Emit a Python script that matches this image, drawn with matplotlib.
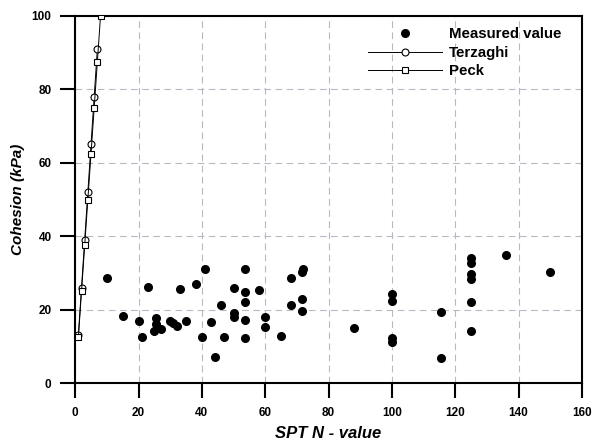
import numpy as np
import matplotlib.pyplot as plt

plt.rcParams['font.family'] = ['Liberation Sans', 'DejaVu Sans']

# measured SPT N-value vs cohesion (kPa)
meas_n = [10, 15, 20, 21, 23, 25.5, 25.5, 25, 27, 30, 31, 32, 33, 35, 38,
          40, 41, 43, 44, 46, 47, 50, 50, 50, 53.5, 53.5, 53.5, 53.5, 53.5,
          58, 60, 60, 65, 68, 68, 71.5, 72, 71.5, 71.5,
          88, 100, 100, 100, 100, 115.5, 115.5,
          125, 125, 125, 125, 125, 125, 136, 150]
meas_c = [28.7, 18.2, 16.9, 12.7, 26.2, 17.7, 16.0, 14.2, 14.7, 16.9, 16.3, 15.7, 25.6, 16.9, 26.9,
          12.5, 31.2, 16.6, 7.1, 21.3, 12.7, 25.8, 19.0, 18.0, 31.2, 24.7, 22.1, 17.1, 12.3,
          25.3, 18.0, 15.3, 12.9, 28.7, 21.3, 30.3, 31.2, 23.0, 19.7,
          15.1, 24.4, 22.3, 12.3, 11.3, 19.5, 6.8,
          34.0, 32.8, 29.7, 28.5, 22.1, 14.3, 34.8, 30.2]

# empirical correlations
terz_n = [1, 2, 3, 4, 5, 6, 7]
terz_c = [13, 26, 39, 52, 65, 78, 91]
peck_n = [1, 2, 3, 4, 5, 6, 7, 8]
peck_c = [12.5, 25, 37.5, 50, 62.5, 75, 87.5, 100]

fig = plt.figure(figsize=(5.92, 4.43), dpi=100)
ax = fig.add_axes([0.127, 0.135, 0.856, 0.829])

ax.plot(meas_n, meas_c, 'o', color='black', markersize=5.5, label='Measured value', zorder=3)
ax.plot(terz_n, terz_c, '-o', color='black', lw=0.7, markersize=5, mfc='white', mew=0.8,
        label='Terzaghi', zorder=4)
ax.plot(peck_n, peck_c, '-s', color='black', lw=0.7, markersize=5, mfc='white', mew=0.8,
        label='Peck', zorder=4)

ax.set_xlim(0, 160)
ax.set_ylim(0, 100)
ax.set_xticks(np.arange(0, 161, 20))
ax.set_yticks(np.arange(0, 101, 20))
ax.grid(True, color='#b8b8c4', linestyle=(0, (6, 4)), linewidth=0.8)
ax.set_axisbelow(True)

for s in ax.spines.values():
    s.set_linewidth(1.5)
ax.tick_params(direction='out', length=11, width=1.5, labelsize=8.5, pad=6)
for lab in ax.get_xticklabels() + ax.get_yticklabels():
    lab.set_fontweight('bold')

ax.set_xlabel('SPT N - value', fontsize=12, fontweight='bold', style='italic', labelpad=5)
ax.set_ylabel('Cohesion (kPa)', fontsize=11, fontweight='bold', style='italic', labelpad=5)

leg = ax.legend(loc='upper right', bbox_to_anchor=(0.972, 0.985), borderaxespad=0,
                frameon=False, prop={'weight': 'bold', 'size': 10.8},
                handlelength=4.9, handletextpad=0.5, labelspacing=0.3)

fig.savefig('out.png', dpi=100)
